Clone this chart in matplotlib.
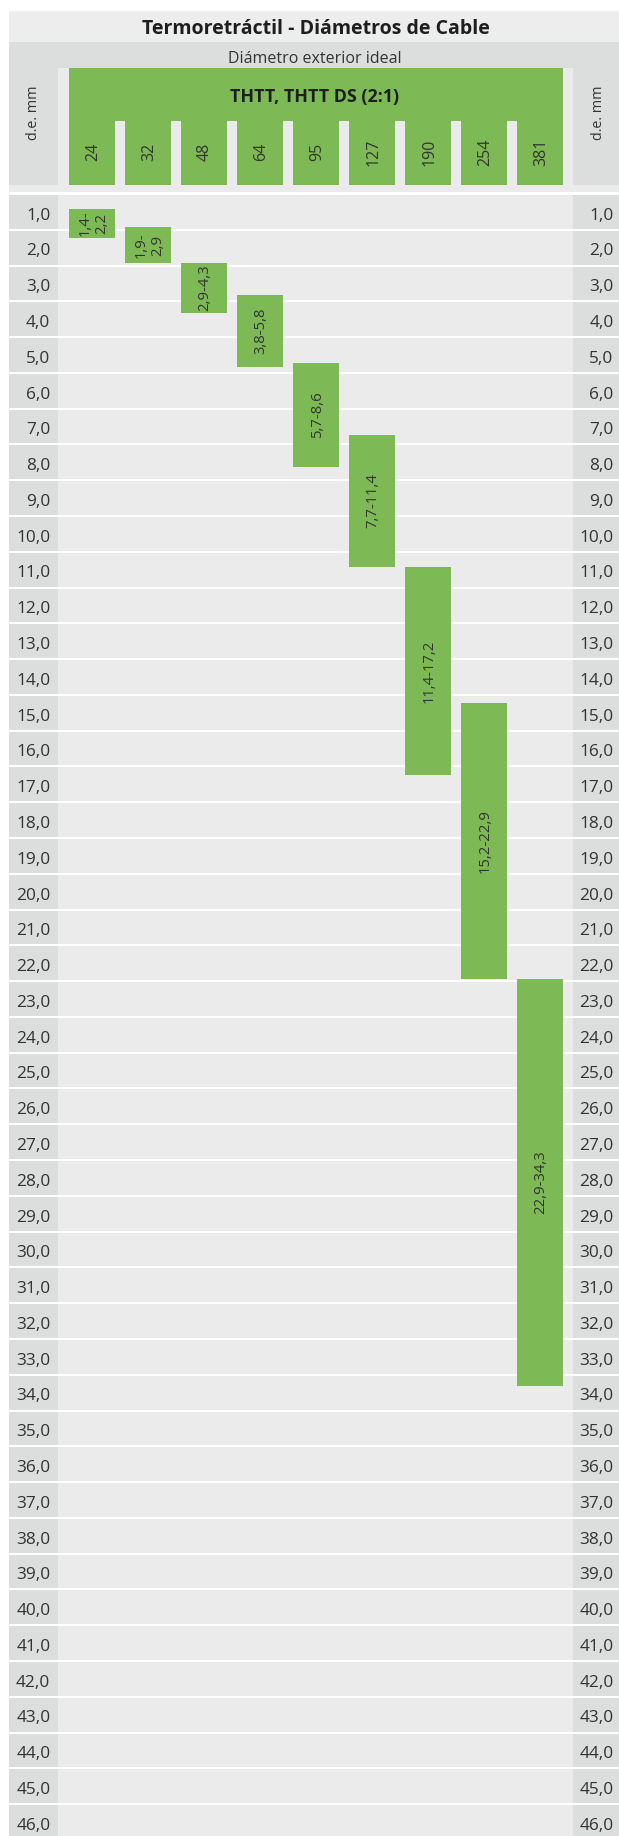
import matplotlib
matplotlib.use("Agg")
import matplotlib.pyplot as plt
from matplotlib.patches import Rectangle

plt.rcParams['font.family'] = ['Open Sans', 'DejaVu Sans']

# ---------------- data ----------------
title = "Termoretráctil - Diámetros de Cable"
subtitle = "Diámetro exterior ideal"
group_label = "THTT, THTT DS (2:1)"
axis_label = "d.e. mm"
sizes = ["24", "32", "48", "64", "95", "127", "190", "254", "381"]
range_lo = [1.4, 1.9, 2.9, 3.8, 5.7, 7.7, 11.4, 15.2, 22.9]
range_hi = [2.2, 2.9, 4.3, 5.8, 8.6, 11.4, 17.2, 22.9, 34.3]
row_values = list(range(1, 47))
row_labels = [f"{v},0" for v in row_values]

# ---------------- style / layout ----------------
W, H = 619, 1836
GREEN = "#7dba55"
LIGHT = "#ebebeb"
DARK = "#dcdddd"
TITLE_BG = "#ededed"
TXT = "#333333"

COL0_PX, PX_PER_COL = 92.0, 56.0
Y0_PX, PX_PER_UNIT = 159.2, 35.78
BAR_W = 46.0 / PX_PER_COL
SEP = 2.0 / PX_PER_UNIT

def xd(px):
    return (px - COL0_PX) / PX_PER_COL

def yd(px):
    return (px - Y0_PX) / PX_PER_UNIT

fig = plt.figure(figsize=(W / 100, H / 100), dpi=100)
ax = fig.add_axes([0, 0, 1, 1])
ax.set_xlim(xd(0), xd(W))
ax.set_ylim(yd(H), yd(0))
ax.axis("off")

def rect_px(x0, y0, x1, y1, color, z=1):
    ax.add_patch(Rectangle((xd(x0), yd(y0)), xd(x1) - xd(x0), yd(y1) - yd(y0),
                           facecolor=color, edgecolor="none", zorder=z))

LEFT_X0, LEFT_X1 = 9.0, 58.3
RIGHT_X0 = 572.7
GREEN_X0, GREEN_X1 = 69.0, 563.0

# header backgrounds
rect_px(LEFT_X0, 11, W + 5, 41.7, TITLE_BG)
rect_px(LEFT_X0, 41.7, W + 5, 68.3, DARK)
rect_px(LEFT_X0, 68.3, LEFT_X1, 185, DARK)
rect_px(RIGHT_X0, 68.3, W + 5, 185, DARK)
rect_px(LEFT_X1, 68.3, RIGHT_X0, 185, LIGHT)
rect_px(LEFT_X0, 185, W + 5, 192, LIGHT)
rect_px(GREEN_X0, 68.3, GREEN_X1, 120.5, GREEN, z=2)

# header column cells (green) drawn from the size list
xs = list(range(len(sizes)))
ax.bar(xs, [yd(185) - yd(120)] * len(xs), bottom=yd(120), width=BAR_W,
       color=GREEN, edgecolor="none", zorder=2)
for i, s in enumerate(sizes):
    ax.text(i + 0.02, yd(152), s, rotation=90, ha="center", va="center",
            fontsize=11.5, color=TXT, zorder=5)

ax.text(xd(315.5), yd(34.3), title, ha="center", va="baseline", fontsize=14,
        fontweight="bold", color="#1e1e1e", zorder=5)
ax.text(xd(315), yd(62.5), subtitle, ha="center", va="baseline", fontsize=11.5,
        color=TXT, zorder=5)
ax.text(xd(315), yd(101.7), group_label, ha="center", va="baseline",
        fontsize=12.9, fontweight="bold", color="#1e1e1e", zorder=5)
ax.text(xd(34), yd(113), axis_label, rotation=90, ha="center", va="center",
        fontsize=10.4, color=TXT, zorder=5)
ax.text(xd(599), yd(113), axis_label, rotation=90, ha="center", va="center",
        fontsize=10.4, color=TXT, zorder=5)

# row bands
n = len(row_values)
ax.barh(row_values, [xd(LEFT_X1) - xd(LEFT_X0)] * n, left=xd(LEFT_X0),
        height=1 - SEP, align="edge", color=DARK, edgecolor="none", zorder=1)
ax.barh(row_values, [xd(RIGHT_X0) - xd(LEFT_X1)] * n, left=xd(LEFT_X1),
        height=1 - SEP, align="edge", color=LIGHT, edgecolor="none", zorder=1)
ax.barh(row_values, [xd(W + 5) - xd(RIGHT_X0)] * n, left=xd(RIGHT_X0),
        height=1 - SEP, align="edge", color=DARK, edgecolor="none", zorder=1)
BASE_OFF = 24.7 / PX_PER_UNIT
for v, lab in zip(row_values, row_labels):
    yb = v + BASE_OFF
    ax.text(xd(50.3), yb, lab, ha="right", va="baseline", fontsize=12.4,
            color=TXT, zorder=5)
    ax.text(xd(613.5), yb, lab, ha="right", va="baseline", fontsize=12.4,
            color=TXT, zorder=5)

# range bars
heights = [h - l for l, h in zip(range_lo, range_hi)]
ax.bar(xs, heights, bottom=range_lo, width=BAR_W, color=GREEN,
       edgecolor="none", zorder=3)

def fmt(v):
    return f"{v:.1f}".replace(".", ",")

for i, (l, h) in enumerate(zip(range_lo, range_hi)):
    if h - l < 1.2:
        lab = f"{fmt(l)}-\n{fmt(h)}"
    else:
        lab = f"{fmt(l)}-{fmt(h)}"
    ax.text(i + 0.02, (l + h) / 2, lab, rotation=90, ha="center", va="center",
            multialignment="center", fontsize=10.7, color=TXT,
            linespacing=1.15, zorder=5)

fig.savefig("out.png", dpi=100, facecolor="white")
